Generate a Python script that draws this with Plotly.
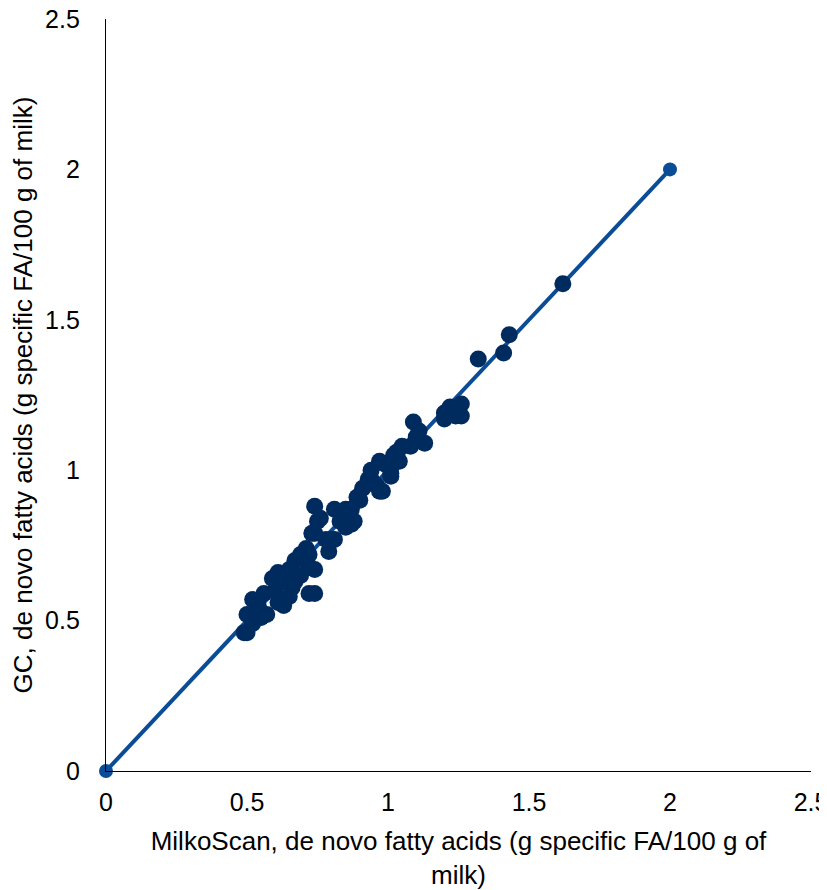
import plotly.graph_objects as go

# MilkoScan (x) vs GC (y), de novo fatty acids, g/100 g milk
milkoscan = [0.49, 0.50, 0.52, 0.50, 0.52, 0.56, 0.55, 0.57, 0.61, 0.61,
             0.59, 0.65, 0.66, 0.72, 0.74, 0.67, 0.72, 0.74, 0.71, 0.74,
             0.79, 0.81, 0.78, 0.75, 0.85, 0.74, 0.81, 0.76, 0.83, 0.87,
             0.73, 0.80, 0.90, 0.93, 0.97, 1.01, 0.97, 1.03, 1.08, 1.10,
             1.09, 1.13, 1.05, 1.02, 1.01, 0.94, 0.91, 0.89, 0.85, 0.88,
             1.20, 1.22, 1.26, 1.26, 1.20, 1.24, 1.32, 1.41, 1.43, 1.62,
             0.63, 0.69, 0.65, 0.54, 0.60, 0.94, 0.99, 0.96, 1.04, 0.87,
             0.69, 0.63, 0.67, 0.72, 1.11, 0.98, 1.01]
gc = [0.46, 0.46, 0.49, 0.52, 0.57, 0.59, 0.51, 0.52, 0.56, 0.66,
      0.64, 0.58, 0.61, 0.59, 0.59, 0.70, 0.68, 0.67, 0.74, 0.79,
      0.73, 0.77, 0.77, 0.83, 0.81, 0.88, 0.87, 0.84, 0.83, 0.82,
      0.79, 0.77, 0.90, 0.97, 0.93, 0.98, 1.03, 1.06, 1.08, 1.11,
      1.16, 1.09, 1.08, 1.05, 0.99, 0.97, 0.94, 0.91, 0.87, 0.83,
      1.19, 1.21, 1.22, 1.18, 1.17, 1.18, 1.37, 1.39, 1.45, 1.62,
      0.63, 0.72, 0.67, 0.55, 0.60, 1.00, 1.02, 0.95, 1.03, 0.87,
      0.65, 0.55, 0.63, 0.72, 1.13, 0.93, 1.01]

# 1:1 reference line
line_x = [0, 2]
line_y = [0, 2]

x_ticks = [0, 0.5, 1, 1.5, 2, 2.5]
y_ticks = [0, 0.5, 1, 1.5, 2, 2.5]
x_title = "MilkoScan, de novo fatty acids (g specific FA/100 g of<br>milk)"
y_title = "GC, de novo fatty acids (g specific FA/100 g of milk)"

fig = go.Figure()
fig.add_trace(go.Scatter(
    x=line_x, y=line_y, mode="lines+markers",
    line=dict(color="#0b4c96", width=4),
    marker=dict(color="#0b4c96", size=14),
    cliponaxis=False,
    showlegend=False, hoverinfo="skip"))
fig.add_trace(go.Scatter(
    x=milkoscan, y=gc, mode="markers",
    marker=dict(color="#002b5e", size=17, line=dict(width=0)),
    showlegend=False))

font_family = "Liberation Sans, Arial, sans-serif"
axis_common = dict(
    showgrid=False, zeroline=False, showline=True,
    linecolor="#000000", linewidth=1.3,
    ticks="outside", tickcolor="rgba(0,0,0,0)",
    ticklabeloverflow="allow",
    tickfont=dict(family=font_family, size=25, color="#000000"),
    range=[0, 2.5], fixedrange=True,
)

fig.update_layout(
    width=819, height=882,
    paper_bgcolor="#ffffff", plot_bgcolor="#ffffff",
    margin=dict(l=98, r=16, t=11, b=119),
    font=dict(family=font_family, size=25, color="#000000"),
    xaxis=dict(**axis_common, ticklen=9, tickvals=x_ticks,
               ticktext=[str(v) for v in x_ticks],
               title=dict(text=x_title, standoff=17,
                          font=dict(family=font_family, size=26))),
    yaxis=dict(**axis_common, ticklen=20, tickvals=y_ticks,
               ticktext=[str(v) for v in y_ticks],
               title=dict(text=y_title, standoff=10,
                          font=dict(family=font_family, size=26))),
)
fig.update_xaxes(automargin=False)
fig.update_yaxes(automargin=False)

fig.write_html("out.html")
